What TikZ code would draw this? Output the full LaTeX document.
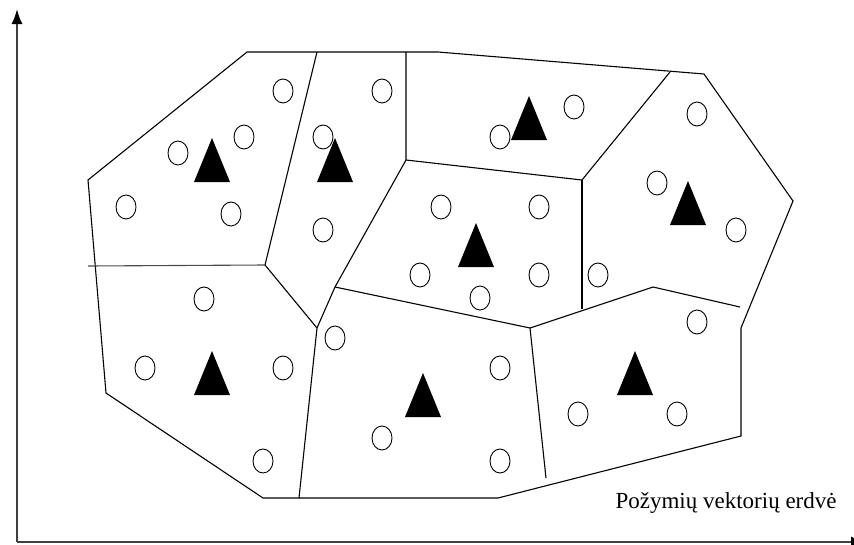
\documentclass[tikz,border=0pt]{standalone}
\usepackage{fontspec}
\setmainfont{Liberation Serif}
\usetikzlibrary{arrows.meta}

\begin{document}
\begin{tikzpicture}[x=1pt,y=-1pt,line width=1.1pt]
\useasboundingbox (0,0) rectangle (854,544);
% axes
\draw[line width=1.8pt,black!75,-{Latex[length=15pt,width=11pt,black]}] (17,542) -- (17,9);
\draw[line width=1.8pt,black!75,-{Latex[length=15pt,width=11pt,black]}] (17,542) -- (866,542);
% outer hull
\coordinate (T1) at (247,52);
\coordinate (T2) at (317,52);
\coordinate (T3) at (406,52);
\coordinate (T4) at (438,52);
\coordinate (T5) at (670,72);
\coordinate (T6) at (704,74);
\coordinate (R1) at (793,201);
\coordinate (R2) at (741,328);
\coordinate (R3) at (741,436);
\coordinate (B1) at (498,498);
\coordinate (B2) at (299,498);
\coordinate (B3) at (263,498);
\coordinate (L1) at (106,393);
\coordinate (L2) at (88,180);
\draw (L2) -- (T1) -- (T4) -- (T6) -- (R1) -- (R2) -- (R3) -- (B1) -- (B3) -- (L1) -- cycle;
% inner borders
\coordinate (H0) at (88,266);
\coordinate (C1) at (265,265);
\coordinate (C2) at (317,328);
\coordinate (C3) at (335,287);
\coordinate (C4) at (406,160);
\coordinate (C5) at (582,180);
\coordinate (C6) at (582,309);
\coordinate (C7) at (530,328);
\coordinate (C8) at (546,478);
\coordinate (C9) at (653,287);
\coordinate (C10) at (740,307);
\draw (T2) -- (C1);
\draw[black!70] (H0) -- (C1);
\draw (C1) -- (C2) -- (B2);
\draw (C2) -- (C3) -- (C4) -- (T3);
\draw (C4) -- (C5) -- (T5);
\draw (C5) -- (C6);
\draw (C3) -- (C7) -- (C8);
\draw (C7) -- (C9) -- (C10);
% samples
\foreach \p in {(283,91),(382,91),(244,137),(178,153),(323,137),(126,207),(231,214),(323,230),
  (574,107),(500,137),(697,114),(657,183),(736,230),(441,207),(539,207),
  (420,275),(539,275),(480,298),(598,275),(697,322),
  (204,299),(145,368),(283,368),(263,461),(335,338),(382,438),
  (500,368),(500,461),(578,414),(677,414)}
  \draw[line width=0.9pt,fill=white] \p ellipse [x radius=10pt,y radius=12pt];
% prototypes
\foreach \p in {(212,138),(335,138),(529,96),(688,181),(476,223),(212,351),(423,373),(635,351)}
  \fill \p -- ++(-18,44) -- ++(36,0) -- cycle;
\node[anchor=west,font=\fontsize{23}{28}\selectfont,inner sep=0pt] (lbl) at (615,503) {Požymių vektorių erdvė};
\end{tikzpicture}
\end{document}
